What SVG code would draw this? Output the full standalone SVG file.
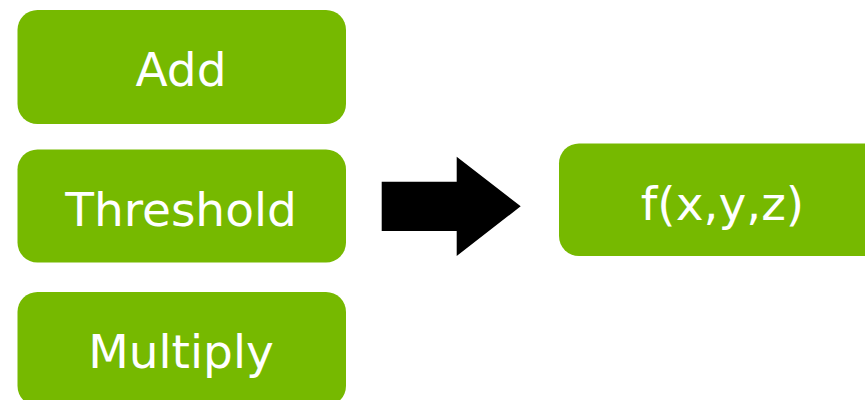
<svg xmlns="http://www.w3.org/2000/svg" width="865" height="400" viewBox="0 0 865 400">
<style>
.box{fill:#76b900}
.lbl{fill:#ffffff;font-family:"DejaVu Sans",sans-serif;font-size:47px;text-anchor:middle}
</style>
<rect width="865" height="400" fill="#ffffff"/>
<g id="add"><rect class="box" x="17.5" y="10" width="328.5" height="114" rx="20"/><text class="lbl" x="181" y="86">Add</text></g>
<g id="threshold"><rect class="box" x="17.5" y="149.5" width="328.5" height="113" rx="20"/><text class="lbl" x="181" y="225.5">Threshold</text></g>
<g id="multiply"><rect class="box" x="17.5" y="292" width="328.5" height="114" rx="20"/><text class="lbl" x="181" y="368">Multiply</text></g>
<g id="f"><rect class="box" x="559" y="143.5" width="330" height="112.5" rx="20"/><text class="lbl" x="722.5" y="220">f(x,y,z)</text></g>
<g id="connectors"><polygon points="381.7,181.7 456.7,181.7 456.7,156.7 520.7,206.3 456.7,256 456.7,231 381.7,231" fill="#000000"/></g>
</svg>
